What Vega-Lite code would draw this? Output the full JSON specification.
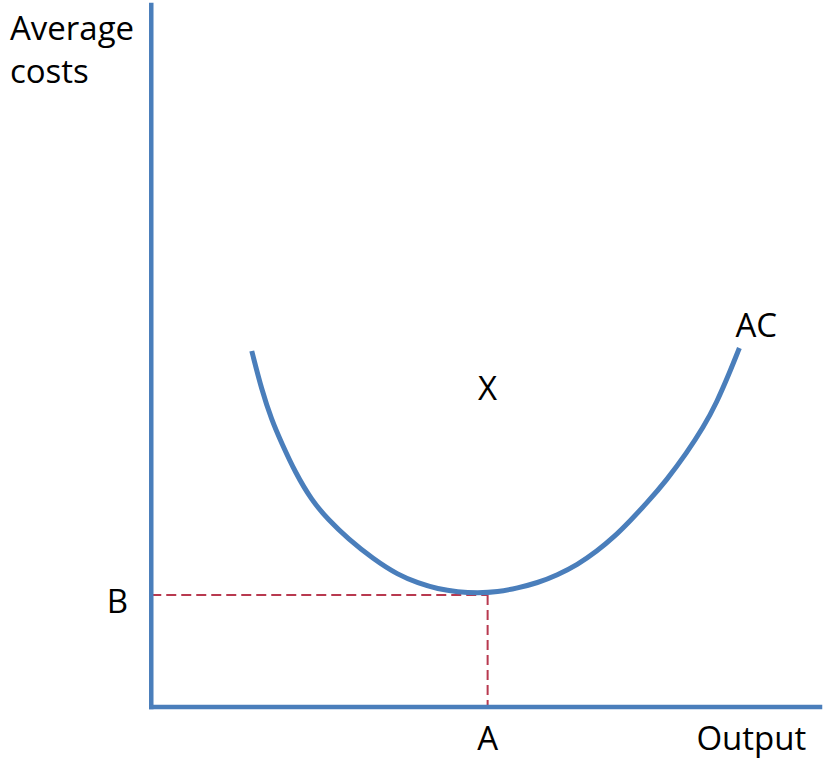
{
  "$schema": "https://vega.github.io/schema/vega-lite/v6.json",
  "width": 824,
  "height": 760,
  "autosize": {"type": "fit", "contains": "padding"},
  "padding": 0,
  "background": "white",
  "config": {"view": {"stroke": null}},
  "datasets": {
    "axes": [
      {"x": 0, "y": 0, "x2": 0, "y2": 70.2},
      {"x": 0, "y": 0, "x2": 67.2, "y2": 0}
    ],
    "guides": [
      {"x": 0, "y": 11.2, "x2": 33.8, "y2": 11.2},
      {"x": 33.8, "y": 11.2, "x2": 33.8, "y2": 0}
    ],
    "curve": [
      {"q": 10.1, "c": 35.6},
      {"q": 11.1, "c": 31.7},
      {"q": 12.1, "c": 28.7},
      {"q": 13.1, "c": 26.4},
      {"q": 14.5, "c": 23.4},
      {"q": 16.1, "c": 20.7},
      {"q": 17.8, "c": 18.7},
      {"q": 19.8, "c": 16.8},
      {"q": 22.3, "c": 14.8},
      {"q": 24.8, "c": 13.2},
      {"q": 26.8, "c": 12.4},
      {"q": 28.8, "c": 11.8},
      {"q": 30.8, "c": 11.5},
      {"q": 32.8, "c": 11.4},
      {"q": 34.8, "c": 11.5},
      {"q": 36.8, "c": 11.9},
      {"q": 38.8, "c": 12.4},
      {"q": 40.8, "c": 13.2},
      {"q": 42.8, "c": 14.2},
      {"q": 44.8, "c": 15.6},
      {"q": 46.5, "c": 17.0},
      {"q": 48.1, "c": 18.6},
      {"q": 49.8, "c": 20.4},
      {"q": 51.8, "c": 22.7},
      {"q": 53.8, "c": 25.4},
      {"q": 55.5, "c": 28.0},
      {"q": 56.8, "c": 30.4},
      {"q": 58.1, "c": 33.4},
      {"q": 59.1, "c": 35.9}
    ],
    "leftLabels": [
      {"x": -14.2, "y": 66.7, "t": "Average"},
      {"x": -14.2, "y": 62.4, "t": "costs"}
    ],
    "labels": [
      {"x": 60.8, "y": 37.0, "t": "AC"},
      {"x": 33.8, "y": 30.7, "t": "X"},
      {"x": -3.4, "y": 9.4, "t": "B"},
      {"x": 33.8, "y": -4.3, "t": "A"},
      {"x": 60.3, "y": -4.3, "t": "Output"}
    ]
  },
  "layer": [
    {
      "data": {"name": "guides"},
      "mark": {"type": "rule", "color": "#b8394f", "strokeWidth": 2, "strokeDash": [10, 5]},
      "encoding": {
        "x": {"field": "x", "type": "quantitative", "scale": {"domain": [-15.2, 67.2], "nice": false, "zero": false}, "axis": null},
        "y": {"field": "y", "type": "quantitative", "scale": {"domain": [-5.3, 70.7], "nice": false, "zero": false}, "axis": null},
        "x2": {"field": "x2"},
        "y2": {"field": "y2"}
      }
    },
    {
      "data": {"name": "axes"},
      "mark": {"type": "rule", "color": "#4a7ebb", "strokeWidth": 4.5, "strokeCap": "square"},
      "encoding": {
        "x": {"field": "x", "type": "quantitative"},
        "y": {"field": "y", "type": "quantitative"},
        "x2": {"field": "x2"},
        "y2": {"field": "y2"}
      }
    },
    {
      "data": {"name": "curve"},
      "mark": {"type": "line", "color": "#4a7ebb", "strokeWidth": 5, "interpolate": "basis"},
      "encoding": {
        "x": {"field": "q", "type": "quantitative"},
        "y": {"field": "c", "type": "quantitative"}
      }
    },
    {
      "data": {"name": "leftLabels"},
      "mark": {"type": "text", "align": "left", "baseline": "alphabetic", "font": "Open Sans", "fontSize": 33, "color": "black"},
      "encoding": {
        "x": {"field": "x", "type": "quantitative"},
        "y": {"field": "y", "type": "quantitative"},
        "text": {"field": "t"}
      }
    },
    {
      "data": {"name": "labels"},
      "mark": {"type": "text", "align": "center", "baseline": "alphabetic", "font": "Open Sans", "fontSize": 33, "color": "black"},
      "encoding": {
        "x": {"field": "x", "type": "quantitative"},
        "y": {"field": "y", "type": "quantitative"},
        "text": {"field": "t"}
      }
    }
  ]
}
